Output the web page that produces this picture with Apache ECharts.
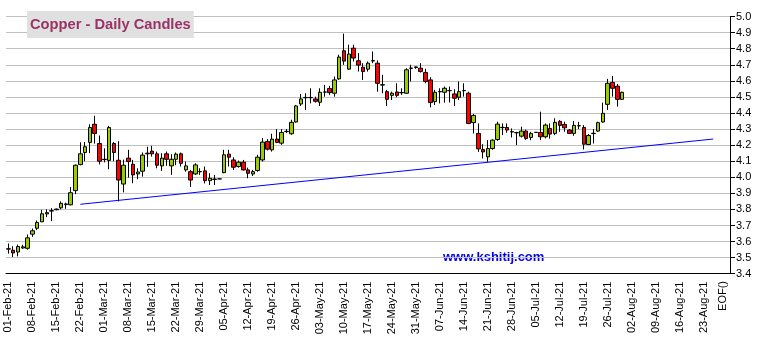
<!DOCTYPE html>
<html>
<head>
<meta charset="utf-8">
<script src="https://cdn.jsdelivr.net/npm/echarts@6/dist/echarts.min.js"></script>
<style>
  html, body { margin: 0; padding: 0; background: #fff; }
  #chart { width: 758px; height: 340px; }
</style>
</head>
<body>
<div id="chart"></div>
<script>
// ---- DATA ----
// trading days (weekdays) starting 01-Feb-2021
const startDate = '2021-02-01';
const dayCount = 151; // axis slots to the right edge
const lastLabelIndex = 145; // 23-Aug-21 is the last dated tick label
const monthNames = ['Jan','Feb','Mar','Apr','May','Jun','Jul','Aug','Sep','Oct','Nov','Dec'];

const opens = [
  3.555,3.546,3.535,3.560,3.558,3.646,3.683,3.723,3.772,3.790,
  3.798,3.810,3.830,3.829,3.917,4.079,4.154,4.217,4.330,4.210,
  4.110,4.105,4.210,4.106,3.958,4.119,4.081,4.021,4.038,4.146,
  4.163,4.146,4.071,4.146,4.071,4.112,4.146,4.046,4.035,4.021,
  4.034,4.040,3.979,3.987,3.990,4.029,4.144,4.108,4.067,4.094,
  4.046,4.021,4.042,4.108,4.223,4.171,4.2375,4.2125,4.284,4.271,
  4.344,4.456,4.495,4.495,4.4875,4.467,4.530,4.552,4.523,4.6125,
  4.7875,4.673,4.804,4.725,4.685,4.673,4.724,4.710,4.574,4.533,
  4.510,4.531,4.526,4.523,4.678,4.687,4.679,4.652,4.606,4.471,
  4.532,4.529,4.539,4.519,4.498,4.539,4.523,4.340,4.273,4.173,
  4.127,4.179,4.235,4.309,4.310,4.282,4.278,4.256,4.2875,4.248,
  4.280,4.279,4.252,4.304,4.273,4.348,4.329,4.294,4.273,4.320,
  4.310,4.204,4.272,4.2875,4.344,4.454,4.590,4.567,4.485
];
const closes = [
  3.553,3.529,3.569,3.567,3.623,3.667,3.719,3.773,3.780,3.792,
  3.802,3.838,3.834,3.904,4.075,4.146,4.190,4.310,4.273,4.100,
  4.112,4.310,4.154,3.983,4.075,4.098,4.015,4.033,4.138,4.150,
  4.146,4.075,4.119,4.112,4.112,4.144,4.087,4.071,3.983,4.077,
  4.036,3.979,3.994,3.989,3.990,4.140,4.125,4.0625,4.094,4.046,
  4.025,4.035,4.125,4.219,4.175,4.2375,4.217,4.279,4.286,4.342,
  4.444,4.4875,4.497,4.497,4.473,4.529,4.531,4.527,4.606,4.748,
  4.723,4.767,4.742,4.698,4.658,4.710,4.726,4.585,4.576,4.485,
  4.523,4.510,4.528,4.669,4.680,4.683,4.658,4.596,4.465,4.529,
  4.534,4.554,4.540,4.492,4.533,4.540,4.335,4.385,4.177,4.158,
  4.179,4.231,4.331,4.311,4.294,4.284,4.277,4.2875,4.242,4.273,
  4.279,4.252,4.325,4.269,4.342,4.323,4.308,4.273,4.323,4.321,
  4.206,4.260,4.274,4.340,4.398,4.585,4.554,4.485,4.529
];
const lows = [
  3.525,3.504,3.508,3.555,3.550,3.629,3.671,3.721,3.752,3.727,
  3.795,3.800,3.804,3.825,3.895,4.075,4.100,4.150,4.210,4.080,
  4.093,4.050,4.100,3.850,3.906,3.998,3.963,3.988,4.004,4.065,
  4.129,4.056,4.040,4.071,4.015,4.075,4.067,4.035,3.940,4.015,
  4.015,3.962,3.952,3.952,3.990,4.025,4.067,4.046,4.060,4.042,
  3.994,4.008,4.035,4.098,4.167,4.160,4.2125,4.202,4.275,4.2645,
  4.340,4.444,4.419,4.460,4.465,4.444,4.502,4.5125,4.502,4.606,
  4.700,4.669,4.721,4.658,4.606,4.658,4.710,4.533,4.523,4.444,
  4.481,4.498,4.5125,4.519,4.596,4.675,4.652,4.585,4.435,4.450,
  4.460,4.465,4.465,4.444,4.481,4.502,4.331,4.273,4.158,4.117,
  4.096,4.171,4.227,4.2625,4.277,4.248,4.200,4.248,4.233,4.231,
  4.276,4.231,4.242,4.240,4.2625,4.283,4.283,4.269,4.258,4.300,
  4.173,4.200,4.210,4.283,4.340,4.419,4.502,4.440,4.481
];
const highs = [
  3.588,3.571,3.581,3.580,3.644,3.681,3.731,3.798,3.800,3.808,
  3.805,3.850,3.842,3.940,4.080,4.217,4.220,4.330,4.383,4.260,
  4.180,4.320,4.220,4.225,4.110,4.171,4.108,4.056,4.154,4.190,
  4.196,4.160,4.150,4.160,4.144,4.154,4.154,4.098,4.046,4.0875,
  4.056,4.067,4.025,4.015,3.990,4.171,4.171,4.125,4.104,4.108,
  4.060,4.046,4.140,4.244,4.2375,4.271,4.300,4.300,4.300,4.358,
  4.450,4.519,4.523,4.554,4.502,4.554,4.575,4.569,4.627,4.7625,
  4.894,4.825,4.825,4.773,4.710,4.721,4.783,4.727,4.6375,4.544,
  4.533,4.585,4.554,4.679,4.700,4.690,4.710,4.675,4.623,4.544,
  4.554,4.565,4.565,4.548,4.596,4.585,4.533,4.394,4.335,4.206,
  4.231,4.237,4.346,4.335,4.335,4.304,4.283,4.315,4.2975,4.283,
  4.282,4.408,4.335,4.335,4.367,4.356,4.346,4.300,4.350,4.345,
  4.325,4.270,4.300,4.346,4.465,4.6125,4.631,4.581,4.533
];
// trend line end points: [category index, price]
const trendStart = [15, 3.832];
const trendEnd = [147, 4.238];

const yTicks = { min: 3.4, max: 5.0, step: 0.1 };

// ---- BUILD ----
function buildDays() {
  const out = [];
  const d = new Date(startDate + 'T00:00:00Z');
  while (out.length < dayCount) {
    const wd = d.getUTCDay();
    if (wd !== 0 && wd !== 6) {
      const dd = String(d.getUTCDate()).padStart(2, '0');
      out.push({ label: dd + '-' + monthNames[d.getUTCMonth()] + '-' + String(d.getUTCFullYear()).slice(2), monday: wd === 1 });
    }
    d.setUTCDate(d.getUTCDate() + 1);
  }
  return out;
}
const days = buildDays();
const categories = days.map(d => d.label);
const candleData = opens.map((o, i) => [o, closes[i], lows[i], highs[i]]);

const chart = echarts.init(document.getElementById('chart'), null, { renderer: 'canvas' });
const FONT = 'Liberation Sans, Arial, sans-serif';

chart.setOption({
  backgroundColor: '#ffffff',
  animation: false,
  title: {
    text: 'Copper - Daily Candles',
    left: 27, top: 11,
    backgroundColor: '#e0e0e0',
    padding: [6, 3, 6, 3],
    textStyle: { color: '#993366', fontSize: 14.7, fontWeight: 'bold', fontFamily: FONT }
  },
  grid: { left: 6, right: 28, top: 16.6, bottom: 66.3, containLabel: false },
  xAxis: {
    type: 'category',
    data: categories,
    boundaryGap: true,
    axisLine: { show: true, lineStyle: { color: '#000', width: 1 } },
    axisTick: { show: false },
    splitLine: { show: false },
    axisLabel: {
      rotate: 90,
      interval: (idx) => days[idx].monday && idx <= lastLabelIndex,
      margin: 8,
      fontSize: 11,
      color: '#000',
      fontFamily: FONT
    }
  },
  yAxis: {
    type: 'value',
    position: 'right',
    min: yTicks.min, max: yTicks.max, interval: yTicks.step,
    axisLine: { show: true, lineStyle: { color: '#000', width: 1 } },
    axisTick: { show: true, length: 5, inside: false, lineStyle: { color: '#000' } },
    splitLine: { show: true, lineStyle: { color: '#c0c0c0', width: 1 } },
    axisLabel: {
      margin: 6,
      fontSize: 11,
      color: '#000',
      fontFamily: FONT,
      formatter: (v) => v.toFixed(1)
    }
  },
  series: [{
    type: 'candlestick',
    data: candleData,
    barWidth: 4,
    itemStyle: {
      color: '#99cc00',
      color0: '#ff0000',
      borderColor: '#000',
      borderColor0: '#000',
      borderColorDoji: '#000',
      borderWidth: 1
    },
    markLine: {
      silent: true,
      symbol: ['none', 'none'],
      label: { show: false },
      lineStyle: { color: '#0000ff', width: 1, type: 'solid' },
      data: [[{ coord: trendStart }, { coord: trendEnd }]]
    }
  }],
  graphic: [
    {
      type: 'text', left: 443, top: 251,
      style: { text: 'www.kshitij.com', fill: '#0000ee', font: 'bold 13px ' + FONT }
    },
    {
      type: 'text', x: 723, y: 281, rotation: Math.PI / 2,
      style: { text: 'EOF()', fill: '#000', font: '11px ' + FONT, textAlign: 'right', textVerticalAlign: 'middle' }
    }
  ]
});
</script>
</body>
</html>
